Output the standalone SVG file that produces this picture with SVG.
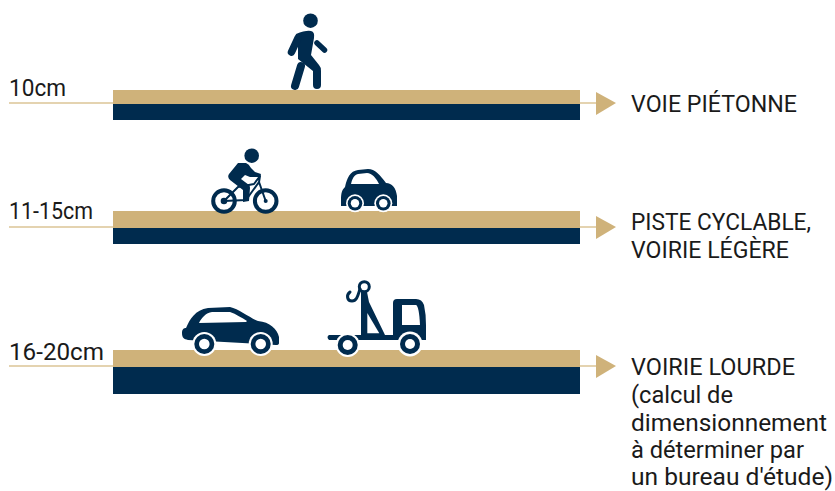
<svg xmlns="http://www.w3.org/2000/svg" width="835" height="491" viewBox="0 0 835 491">
<style>
.tan{fill:#cfb27a}.navy{fill:#002b4e}.white{fill:#fff}
.lead{stroke:#dcc597;stroke-width:1.5;fill:none}
.l{stroke:#002b4e;fill:none;stroke-linecap:round;stroke-linejoin:round}
text{font-family:Roboto,"Noto Sans","Liberation Sans",sans-serif;font-size:23px;fill:#1a1a1a}
</style>
<rect width="835" height="491" fill="#fff"/>
<g id="connectors">
<path class="lead" d="M9 103H113M580 103H596"/>
<path class="tan" d="M596 92L616 103L596 115Z"/>
<path class="lead" d="M9 227H113M580 227H596"/>
<path class="tan" d="M596 216L616 227L596 239Z"/>
<path class="lead" d="M9 366H113M580 366H596"/>
<path class="tan" d="M596 355L616 366L596 378Z"/>
</g>
<g id="road-1">
<rect class="tan" x="113" y="90" width="467" height="14"/>
<rect class="navy" x="113" y="104" width="467" height="16"/>
</g>
<g id="road-2">
<rect class="tan" x="113" y="211" width="467" height="17"/>
<rect class="navy" x="113" y="228" width="467" height="16"/>
</g>
<g id="road-3">
<rect class="tan" x="113" y="350" width="467" height="17"/>
<rect class="navy" x="113" y="367" width="467" height="27"/>
</g>
<g id="label-10cm"><text x="9" y="96" textLength="57" lengthAdjust="spacingAndGlyphs">10cm</text></g>
<g id="label-11-15cm"><text x="9" y="219" textLength="84" lengthAdjust="spacingAndGlyphs">11-15cm</text></g>
<g id="label-16-20cm"><text x="9" y="360" textLength="95" lengthAdjust="spacingAndGlyphs">16-20cm</text></g>
<g id="label-voie-pietonne"><text x="631" y="112" textLength="166" lengthAdjust="spacingAndGlyphs">VOIE PIÉTONNE</text></g>
<g id="label-piste">
<text x="631" y="230" textLength="180" lengthAdjust="spacingAndGlyphs">PISTE CYCLABLE,</text>
<text x="631" y="258" textLength="158" lengthAdjust="spacingAndGlyphs">VOIRIE LÉGÈRE</text>
</g>
<g id="label-voirie-lourde">
<text x="631" y="375" textLength="164" lengthAdjust="spacingAndGlyphs">VOIRIE LOURDE</text>
<text x="631" y="403" textLength="102" lengthAdjust="spacingAndGlyphs">(calcul de</text>
<text x="631" y="431" textLength="196" lengthAdjust="spacingAndGlyphs">dimensionnement</text>
<text x="631" y="458" textLength="173" lengthAdjust="spacingAndGlyphs">à déterminer par</text>
<text x="631" y="485" textLength="202" lengthAdjust="spacingAndGlyphs">un bureau d'étude)</text>
</g>
<g id="pedestrian">
<circle class="navy" cx="310.500" cy="20.700" r="7.300"/>
<path class="navy" d="M296 34Q306 30 311 31Q315 32 314 38L311 55L319 65Q321 67 321 71L321 85A4 4 0 0 1 313 85L313 71L298 59L298 46Z"/>
<path class="l" stroke-width="7.500" d="M298 38L291.500 52"/>
<path class="l" stroke-width="8" d="M301 66L295 86"/>
<path class="l" stroke-width="5.500" d="M317 43L324.500 50"/>
</g>
<g id="cyclist">
<circle class="navy" cx="251.700" cy="155.700" r="7.300"/>
<circle class="l" stroke-width="4" cx="224" cy="201" r="10.800"/>
<circle class="l" stroke-width="4" cx="265.700" cy="201" r="10.800"/>
<circle class="navy" cx="224" cy="201" r="3.300"/>
<circle class="navy" cx="265.700" cy="201" r="2"/>
<path class="l" stroke-width="2" d="M224 201L246 200L259 182L265.700 201M238 187L254 184L260 176L259 182M224 201L238 187"/>
<path class="navy" d="M238 163L246 163Q249 164 251 168L255 172L261 174L260 177L250 177L245 175L241 179L249 185Q250 186 250 188L249 201L243 202L243 190L230 180Q227 177 229 174Z"/>
</g>
<g id="small-car">
<path class="navy" d="M341 200C341 193 342 190 345 187C347 178 350 171 358 170L368 169C375 169 380 175 386 183C392 183 396 188 397 196L397 206L341 206Z"/>
<path class="white" d="M351 184C352 179 354 175 358 174L367 173C372 173 376 178 379 184Z"/>
<circle class="white" cx="355" cy="203.300" r="9"/><circle class="navy" cx="355" cy="203.300" r="7.300"/><circle class="white" cx="355" cy="203.300" r="4.200"/>
<circle class="white" cx="383.300" cy="203.300" r="9"/><circle class="navy" cx="383.300" cy="203.300" r="7.300"/><circle class="white" cx="383.300" cy="203.300" r="4.200"/>
</g>
<g id="big-car">
<path class="navy" d="M182 333C182 329 184 328 186 328C190 319 195 310 208 308L230 307C239 309 250 318 258 321C270 322 277 329 279 337L279 343Q279 345 276 345L188 340C184 339 182 338 182 333Z"/>
<path class="white" d="M199 323C202 317 206 313 212 312L230 312C236 314 242 318 247 321L246 322Z"/>
<circle class="white" cx="204.300" cy="344" r="12"/><circle class="navy" cx="204.300" cy="344" r="10"/><circle class="white" cx="204.300" cy="344" r="5.300"/>
<circle class="white" cx="260.700" cy="344" r="12"/><circle class="navy" cx="260.700" cy="344" r="10"/><circle class="white" cx="260.700" cy="344" r="5.300"/>
</g>
<g id="tow-truck">
<circle class="l" stroke-width="3" cx="364.300" cy="286.700" r="5"/>
<path class="l" stroke-width="3" d="M350 292C346 295 347 301 352 301C357 301 358 295 360 289"/>
<path class="navy" d="M361 292L367 292L369 302L385 335L393 335L393 303Q393 299 397 299L416 299Q422 299 424 305Q426 314 426 325L426 340L329 340Q326 337 329 335L361 335Z"/>
<path class="white" d="M367.300 313L367.300 333.300L379.300 333.300Z"/>
<path class="white" d="M402 305L416 305Q419 306 420 325L402 325Z"/>
<circle class="white" cx="347.700" cy="345" r="12"/><circle class="navy" cx="347.700" cy="345" r="10"/><circle class="white" cx="347.700" cy="345" r="5"/>
<circle class="white" cx="410" cy="344" r="12.500"/><circle class="navy" cx="410" cy="344" r="10"/><circle class="white" cx="410" cy="344" r="5"/>
</g>
</svg>
